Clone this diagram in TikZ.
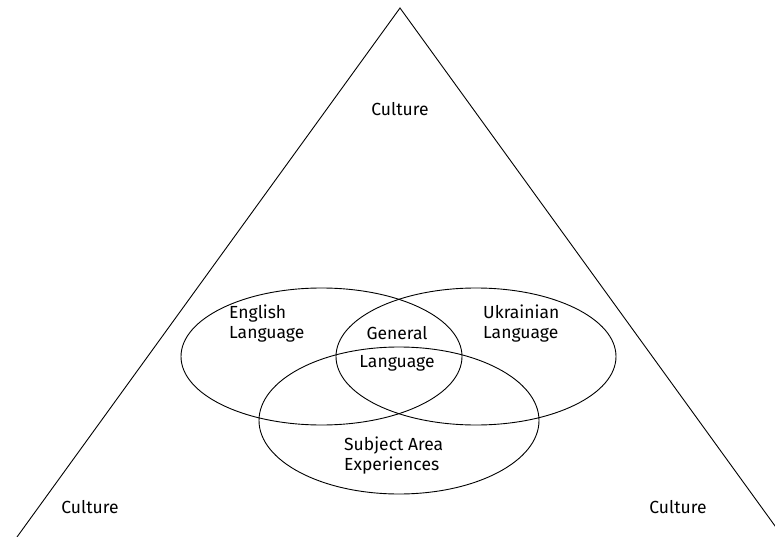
\documentclass[tikz,border=0pt]{standalone}
\usepackage{fontspec}
\setmainfont{Fira Sans}
\usetikzlibrary{shapes.geometric}
\tikzset{
  venn/.style={draw, ellipse, line width=0.9pt, inner sep=0pt},
  label/.style={align=left, inner sep=0pt, font=\fontsize{17.5}{20}\selectfont}
}

\begin{document}
\begin{tikzpicture}[x=1pt,y=-1pt]
            \useasboundingbox (0,0) rectangle (775,537);
            \clip (0,0) rectangle (775,537);

            % Drawing the triangle of culture
            \coordinate (apex) at (400,8);%
            \coordinate (left) at (17,537);%
            \coordinate (right) at (783,537);%
            \draw [line width=0.9pt] (left) -- (apex) -- (right);%

            % Marking the three ellipses
            \node [venn, minimum width=281, minimum height=137] (english) at (321.5,356.5) {};%
            \node [venn, minimum width=280, minimum height=137] (ukrainian) at (476,356.5) {};%
            \node [venn, minimum width=280, minimum height=147] (subject) at (399,420.5) {};%

            % Labels inside the ellipses
            \node [label, anchor=north west] (englishtext) at (229,305) {English\\Language};%
            \node [label, anchor=north west] (ukrainiantext) at (483,305) {Ukrainian\\Language};%
            \node [label] (generaltext) at (397,333) {General};%
            \node [label] (languagetext) at (397,363) {Language};%
            \node [label, anchor=north west] (subjecttext) at (344,437) {Subject Area\\Experiences};%

            % Labels of culture
            \node [label] (culturetop) at (400,109) {Culture};%
            \node [label] (cultureleft) at (90,507) {Culture};%
            \node [label] (cultureright) at (678,507) {Culture};%
        \end{tikzpicture}
\end{document}
